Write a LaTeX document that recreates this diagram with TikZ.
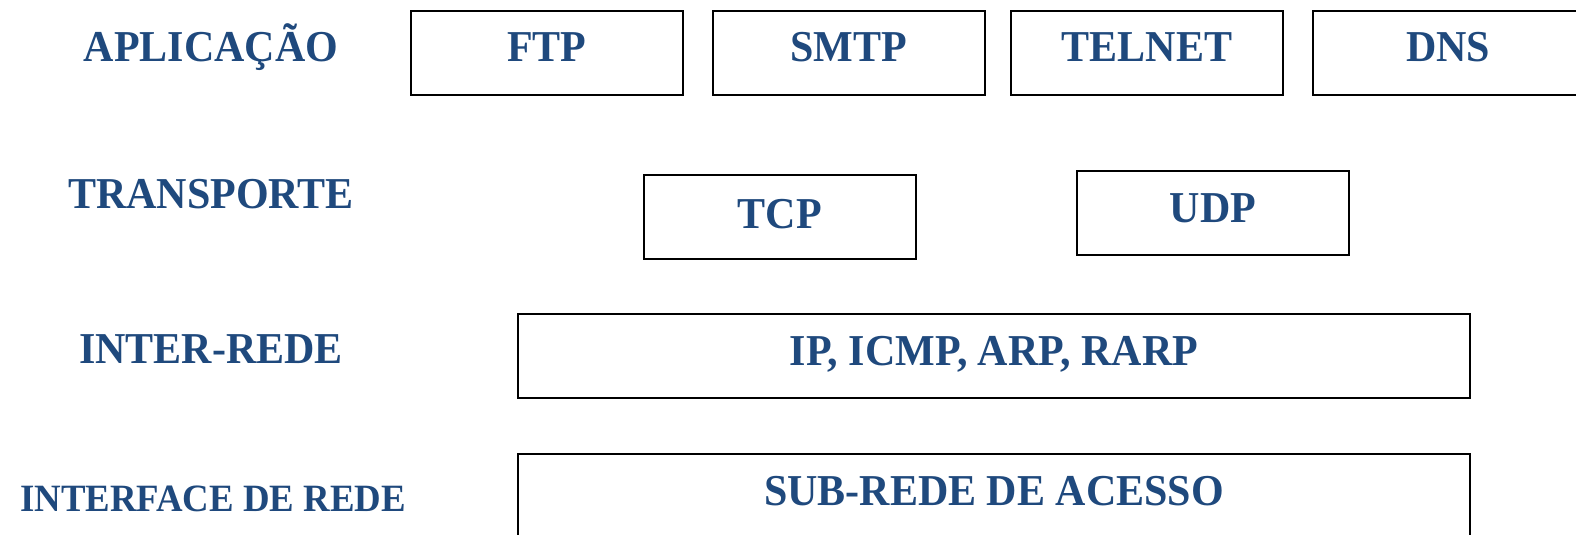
\documentclass[tikz,border=0pt]{standalone}
\usepackage{fontspec}
\usepackage{graphicx}
\setmainfont{Liberation Serif}
\definecolor{layerblue}{RGB}{31,73,125}
% slightly tall lettering
\newcommand\tallword[1]{\scalebox{1}[1.05]{#1}}
\tikzset{
  box/.style={draw=black, line width=1.8pt, rectangle, inner sep=0pt, anchor=north west},
  lbl/.style={text=layerblue, font=\bfseries\fontsize{42}{48}\selectfont, inner sep=0pt, anchor=base},
  lblsmall/.style={lbl, font=\bfseries\fontsize{36.8}{44}\selectfont}
}
\begin{document}
\begin{tikzpicture}[x=1pt, y=-1pt]
\useasboundingbox (0,0) rectangle (1576,535);
\clip (0,0) rectangle (1576,535);
\fill[white] (0,0) rectangle (1576,535);

% layer names
\node[lbl] (apl) at (211,62) {\tallword{APLICAÇÃO}};
\node[lbl] (tra) at (211,208) {\tallword{TRANSPORTE}};
\node[lbl] (inter) at (211,363.5) {\tallword{INTER-REDE}};
\node[lblsmall] (iface) at (213,511) {\tallword{INTERFACE DE REDE}};

% application layer
\node[box, minimum width=272pt, minimum height=84pt] (ftp) at (410,10) {};
\node[box, minimum width=272pt, minimum height=84pt] (smtp) at (712,10) {};
\node[box, minimum width=272pt, minimum height=84pt] (telnet) at (1010,10) {};
\node[box, minimum width=290pt, minimum height=84pt] (dns) at (1312,10) {};
\node[lbl] (ftpt) at (ftp.center |- 0,62) {\tallword{FTP}};
\node[lbl] (smtpt) at (smtp.center |- 0,62) {\tallword{SMTP}};
\node[lbl] (telnett) at (telnet.center |- 0,62) {\tallword{TELNET}};
\node[lbl] (dnst) at (1448,62) {\tallword{DNS}};

% transport layer
\node[box, minimum width=272pt, minimum height=84pt] (tcp) at (643,174) {};
\node[box, minimum width=272pt, minimum height=84pt] (udp) at (1076,170) {};
\node[lbl] (tcpt) at (tcp.center |- 0,228) {\tallword{TCP}};
\node[lbl] (udpt) at (udp.center |- 0,222) {\tallword{UDP}};

% internet layer
\node[box, minimum width=952pt, minimum height=84pt] (ip) at (517,313) {};
\node[lbl] (ipt) at (ip.center |- 0,365) {\tallword{IP, ICMP, ARP, RARP}};

% network interface layer
\node[box, minimum width=952pt, minimum height=110pt] (sub) at (517,453) {};
\node[lbl] (subt) at (sub.center |- 0,505) {\tallword{SUB-REDE DE ACESSO}};
\end{tikzpicture}
\end{document}
